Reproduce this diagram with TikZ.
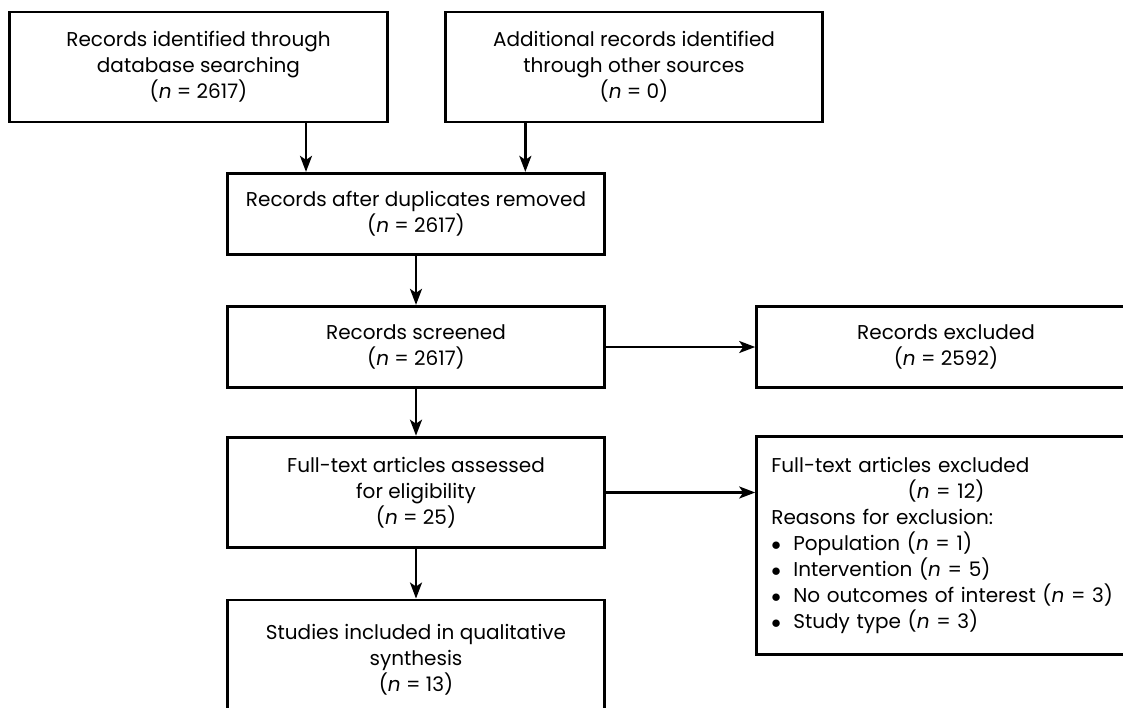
\documentclass[tikz,border=0pt]{standalone}
\usepackage{fontspec}
\setmainfont{Poppins}
\usetikzlibrary{arrows.meta,positioning}

\begin{document}
\begin{tikzpicture}[x=0.75pt,y=0.75pt,
        box/.style={draw, rectangle, line width=2.2pt, minimum width=283pt,
            inner sep=0pt, align=center, font=\fontsize{15}{19.5}\selectfont},
        sidebox/.style={box, minimum width=284pt},
        flow/.style={-{Stealth[length=12pt,width=9pt,inset=3pt]}, line width=1.9pt}]
            \useasboundingbox (0,0) rectangle (1123,-707);
            \clip (0,0) rectangle (1123,-707);
            \def\ncount#1{(\textit{n} = #1)}
            \def\itm{\makebox[16.5pt][l]{$\bullet$}}

            \node[box, minimum height=82.5pt] (ident) at (198.5,-67)
                {Records identified through\\database searching\\\ncount{2617}};
            \node[box, minimum height=82.5pt] (other) at (634,-67)
                {Additional records identified\\through other sources\\\ncount{0}};
            \node[box, minimum height=61pt] (dup) at (416,-214)
                {Records after duplicates removed\\\ncount{2617}};
            \node[box, minimum height=61pt] (screen) at (416,-347)
                {Records screened\\\ncount{2617}};
            \node[sidebox, minimum height=61pt] (recex) at (946,-347)
                {Records excluded\\\ncount{2592}};
            \node[box, minimum height=83pt] (full) at (416,-492.5)
                {Full-text articles assessed\\for eligibility\\\ncount{25}};
            \node[sidebox, minimum height=163pt, text width=262pt, align=left] (fullex) at (946,-545.5)
                {Full-text articles excluded\\
                 \makebox[\linewidth]{\ncount{12}}\\
                 Reasons for exclusion:\\
                 \itm Population \ncount{1}\\
                 \itm Intervention \ncount{5}\\
                 \itm\mbox{No outcomes of interest \ncount{3}}\\
                 \itm Study type \ncount{3}};
            \node[box, minimum height=90pt] (incl) at (416,-660)
                {Studies included in qualitative\\synthesis\\\ncount{13}};

            \coordinate (inA) at ([xshift=-82.5pt]dup.north);
            \coordinate (inB) at ([xshift=82pt]dup.north);

            \draw[flow] (ident.south -| inA) -- (inA);
            \draw[flow] (other.south -| inB) -- (inB);
            \draw[flow] (dup) -- (screen);
            \draw[flow] (screen) -- (recex);
            \draw[flow] (screen) -- (full);
            \draw[flow] (full) -- (fullex.west |- full);
            \draw[flow] (full) -- (incl);
        \end{tikzpicture}
\end{document}
